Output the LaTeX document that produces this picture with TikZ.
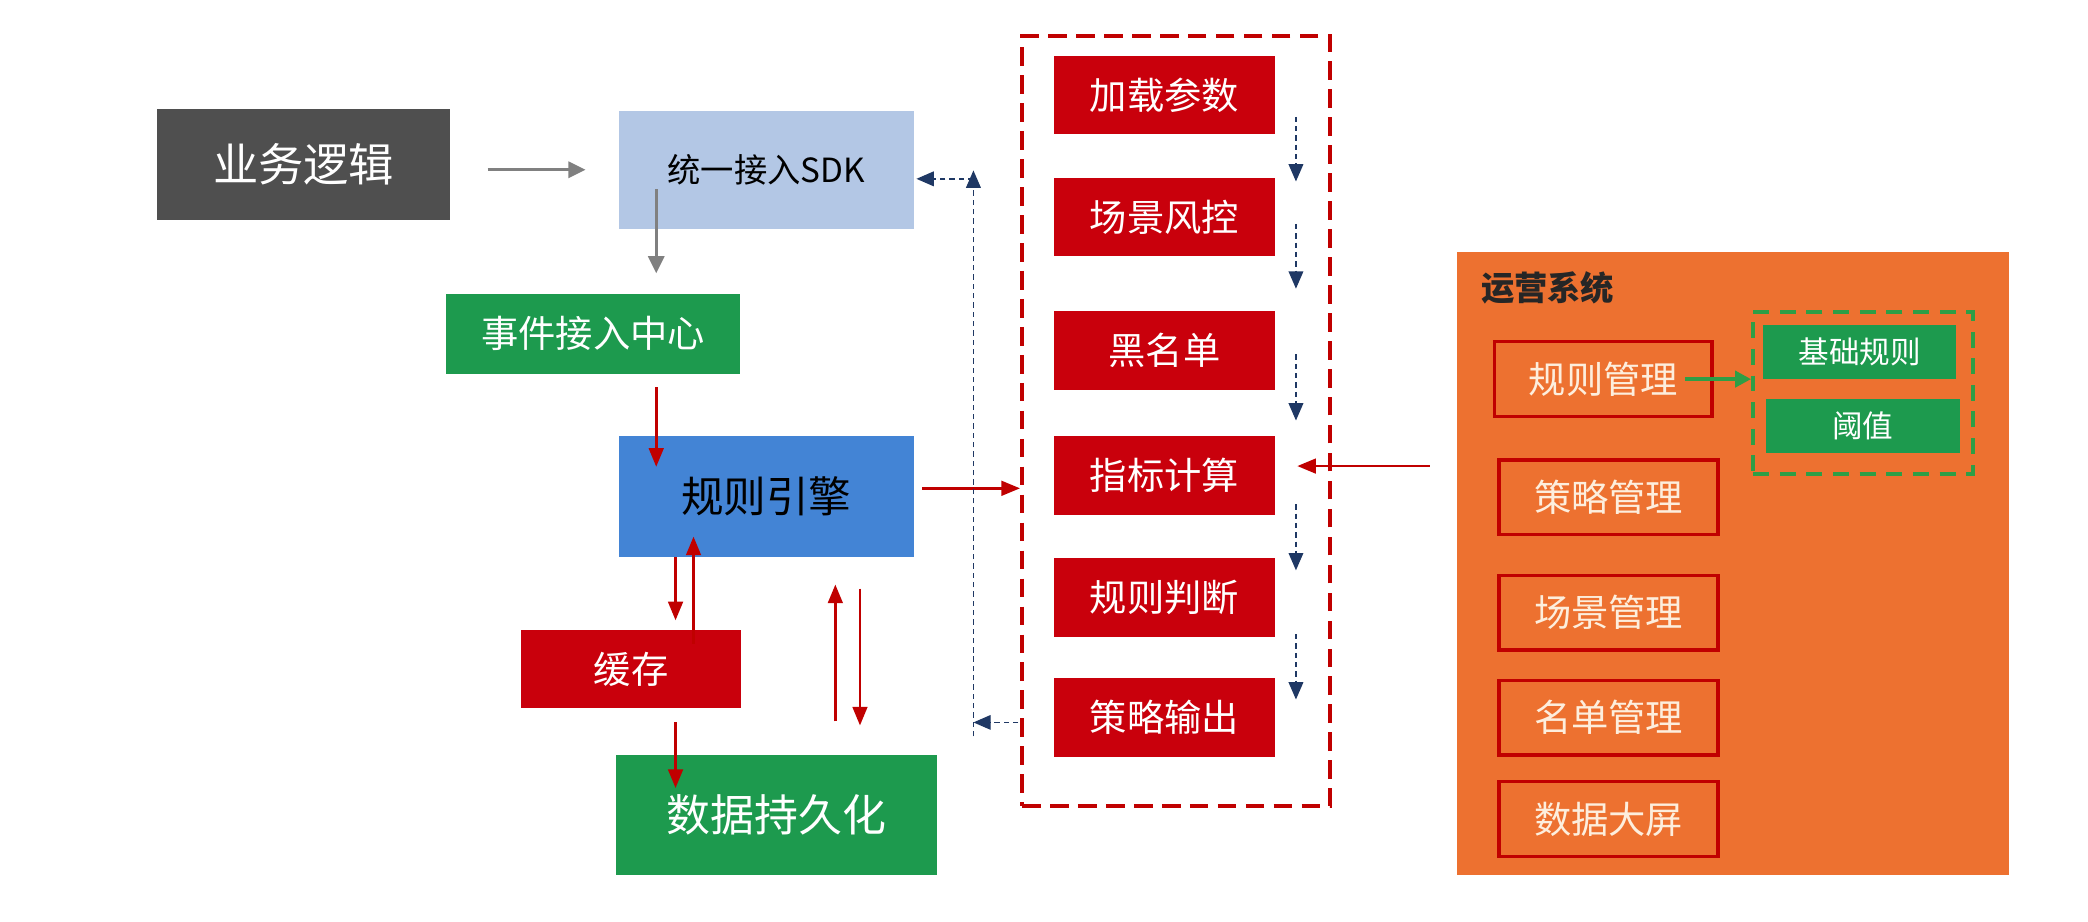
\documentclass[tikz,border=0pt]{standalone}
\usepackage{fontspec}
\setmainfont{Noto Sans CJK SC}
\usetikzlibrary{arrows.meta,calc}
\definecolor{cgray}{HTML}{4F4F4F}
\definecolor{clblue}{HTML}{B3C7E5}
\definecolor{cblue}{HTML}{4384D5}
\definecolor{cgreen}{HTML}{1D9A4E}
\definecolor{cred}{HTML}{C9000C}
\definecolor{cdred}{HTML}{C00000}
\definecolor{corange}{HTML}{ED7130}
\definecolor{ccream}{HTML}{FDEEDD}
\definecolor{cnavy}{HTML}{1F3864}
\definecolor{carrgray}{HTML}{808080}
\definecolor{cgdash}{HTML}{2E9E46}
\newcommand\setfs[1]{\fontsize{#1}{#1}\selectfont}
\begin{document}
\begin{tikzpicture}[x=1pt,y=-1pt,
  box/.style={rectangle,inner sep=0pt,align=center},
  redbox/.style={box,fill=cred,text=white,minimum width=166pt,minimum height=59pt,font=\setfs{28}},
  mbox/.style={box,draw=cdred,line width=2.5pt,fill=corange,text=ccream,minimum width=163pt,minimum height=56pt,font=\setfs{28}},
  gbox/.style={box,fill=cgreen,text=white,minimum width=145pt,minimum height=40.5pt,font=\setfs{23}},
  rarrow/.style={draw=cdred,line width=2pt,-{Triangle[length=14pt,width=11pt]}},
  garrow/.style={draw=carrgray,line width=2.5pt,-{Triangle[length=13pt,width=12pt]}},
  narrow/.style={draw=cnavy,line width=1.1pt,dash pattern=on 4pt off 3pt,-{Triangle[length=13pt,width=11pt]}},
  ggarrow/.style={draw=cgdash,line width=3pt,-{Triangle[length=12pt,width=12pt]}},
]
\useasboundingbox (0,0) rectangle (1568,692);

% left column
\node[box,fill=cgray,text=white,minimum width=220pt,minimum height=83pt,font=\setfs{34}] (biz) at (228,123.5) {业务逻辑};
\node[box,fill=clblue,text=black,minimum width=221pt,minimum height=89pt,font=\setfs{25}] (sdk) at (575.5,127.5) {统一接入SDK};
\node[box,fill=cgreen,text=white,minimum width=221pt,minimum height=60pt,font=\setfs{28}] (evt) at (445.5,250.5) {事件接入中心};
\node[box,fill=cblue,text=black,minimum width=221pt,minimum height=90.5pt,font=\setfs{32}] (eng) at (575.5,373) {规则引擎};
\node[box,fill=cred,text=white,minimum width=165.5pt,minimum height=59.3pt,font=\setfs{28}] (cache) at (474,502.4) {缓存};
\node[box,fill=cgreen,text=white,minimum width=241.5pt,minimum height=90pt,font=\setfs{33}] (pers) at (583,612) {数据持久化};

% dashed pipeline box
\node[box,draw=cdred,line width=3pt,dash pattern=on 14pt off 7pt,minimum width=231.5pt,minimum height=578.5pt] (pipe) at (883.25,316.25) {};
\node[redbox] (p1) at (874.5,71.5) {加载参数};
\node[redbox] (p2) at (874.5,163) {场景风控};
\node[redbox] (p3) at (874.5,263) {黑名单};
\node[redbox] (p4) at (874.5,357) {指标计算};
\node[redbox] (p5) at (874.5,448.5) {规则判断};
\node[redbox] (p6) at (874.5,539) {策略输出};

% operations system
\node[box,fill=corange,minimum width=415pt,minimum height=468pt] (ops) at (1301.5,423) {};
\node[box,anchor=west,font=\setfs{25}\bfseries,text=black!85] (opst) at (1112,216) {运营系统};
\node[mbox] (m1) at (1204,284.7) {规则管理};
\node[mbox,minimum width=164.5pt] (m2) at (1208,373.5) {策略管理};
\node[mbox,minimum width=164.5pt] (m3) at (1208,460) {场景管理};
\node[mbox,minimum width=164.5pt] (m4) at (1208,539) {名单管理};
\node[mbox,minimum width=164.5pt] (m5) at (1208,615) {数据大屏};
\node[box,draw=cgdash,line width=3pt,dash pattern=on 12pt off 8pt,minimum width=165pt,minimum height=122pt] (gd) at (1399,295) {};
\node[gbox] (g1) at (1396.5,264) {基础规则};
\node[gbox] (g2) at (1399,320) {阈值};

% connectors
\draw[garrow] ([xshift=28pt]biz.east |- sdk.west) -- ([xshift=-25pt]sdk.west);
\draw[garrow] ([xshift=28pt,yshift=30pt]sdk.south west) coordinate (s1) -- ([yshift=15pt]s1 |- evt.north);
\draw[rarrow] ([yshift=-10pt]evt.south -| s1) -- ([yshift=-23pt]s1 |- eng.north);
\draw[rarrow] ([xshift=42.5pt]eng.south west) -- ([xshift=42.5pt,yshift=6.7pt]eng.south west |- cache.north);
\draw[rarrow] ([xshift=56pt,yshift=-11pt]eng.south west |- cache.north) -- ([xshift=56pt,yshift=15.5pt]eng.south west);
\draw[rarrow] ([xshift=42.5pt,yshift=-10pt]eng.south west |- cache.south) -- ([xshift=42.5pt,yshift=-25pt]eng.south west |- pers.north);
\draw[rarrow] ([xshift=162.5pt,yshift=25pt]eng.south west |- pers.north) -- ([xshift=162.5pt,yshift=-20.5pt]eng.south west);
\draw[rarrow] ([xshift=181pt,yshift=-23.5pt]eng.south west) -- ([xshift=181pt,yshift=22pt]eng.south west |- pers.north);
\draw[rarrow] ([xshift=6.5pt,yshift=6.3pt]eng.east) -- ([yshift=6.3pt]eng.east -| pipe.west);

\draw[narrow] ([xshift=15.5pt,yshift=13.5pt]p1.south east) -- ([xshift=15.5pt,yshift=-3pt]p2.north east);
\draw[narrow] ([xshift=15.5pt,yshift=24.5pt]p2.south east) -- ([xshift=15.5pt,yshift=16.5pt]p3.north east);
\draw[narrow] ([xshift=15.5pt,yshift=26.5pt]p3.south east) -- ([xshift=15.5pt,yshift=11.5pt]p4.north east);
\draw[narrow] ([xshift=15.5pt,yshift=8pt]p4.south east) -- ([xshift=15.5pt,yshift=-9.5pt]p5.north east);
\draw[narrow] ([xshift=15.5pt,yshift=2pt]p5.south east) -- ([xshift=15.5pt,yshift=-16pt]p6.north east);

\coordinate (fbb) at (731,553);
\coordinate (fbt) at (731,128);
\coordinate (fbs) at (731,134.3);
\draw[narrow] ([xshift=-26.5pt,yshift=-3.5pt]p6.west) -- ([yshift=-3.5pt]p6.west -| fbb);
\draw[narrow] (fbb) -- (fbt);
\draw[narrow] (fbs) -- ([xshift=2pt]fbs -| sdk.east);

\draw[rarrow] ([xshift=-20pt,yshift=7pt]p4.east -| ops.west) -- ([xshift=16.5pt,yshift=7pt]p4.east);
\draw[ggarrow] ([xshift=-21.5pt]m1.east) -- (m1.east -| gd.west);
\end{tikzpicture}
\end{document}
